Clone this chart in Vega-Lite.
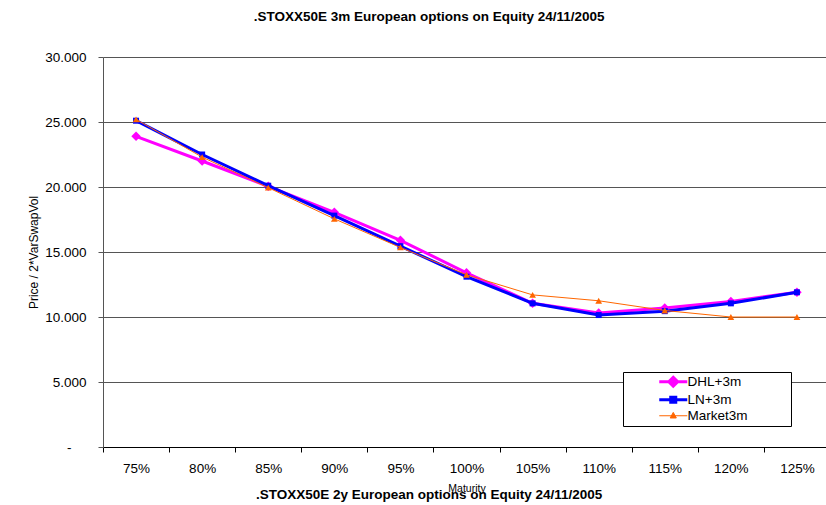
{
  "$schema": "https://vega.github.io/schema/vega-lite/v6.json",
  "padding": {"left": 27, "top": 9, "right": 0, "bottom": 0},
  "background": "white",
  "title": {
    "text": ".STOXX50E 3m European options on Equity 24/11/2005",
    "anchor": "middle",
    "frame": "bounds",
    "font": "Liberation Sans",
    "fontSize": 13.5,
    "fontWeight": "bold",
    "color": "black",
    "offset": 27
  },
  "datasets": {
    "vols": [
      {"strike": "75%", "series": "DHL+3m", "value": 23.9},
      {"strike": "80%", "series": "DHL+3m", "value": 22.0},
      {"strike": "85%", "series": "DHL+3m", "value": 20.05},
      {"strike": "90%", "series": "DHL+3m", "value": 18.05},
      {"strike": "95%", "series": "DHL+3m", "value": 15.9},
      {"strike": "100%", "series": "DHL+3m", "value": 13.4},
      {"strike": "105%", "series": "DHL+3m", "value": 11.05},
      {"strike": "110%", "series": "DHL+3m", "value": 10.3},
      {"strike": "115%", "series": "DHL+3m", "value": 10.7},
      {"strike": "120%", "series": "DHL+3m", "value": 11.2},
      {"strike": "125%", "series": "DHL+3m", "value": 11.9},
      {"strike": "75%", "series": "LN+3m", "value": 25.1},
      {"strike": "80%", "series": "LN+3m", "value": 22.5},
      {"strike": "85%", "series": "LN+3m", "value": 20.1},
      {"strike": "90%", "series": "LN+3m", "value": 17.8},
      {"strike": "95%", "series": "LN+3m", "value": 15.45},
      {"strike": "100%", "series": "LN+3m", "value": 13.1},
      {"strike": "105%", "series": "LN+3m", "value": 11.05},
      {"strike": "110%", "series": "LN+3m", "value": 10.15},
      {"strike": "115%", "series": "LN+3m", "value": 10.45},
      {"strike": "120%", "series": "LN+3m", "value": 11.05},
      {"strike": "125%", "series": "LN+3m", "value": 11.9},
      {"strike": "75%", "series": "Market3m", "value": 25.2},
      {"strike": "80%", "series": "Market3m", "value": 22.3},
      {"strike": "85%", "series": "Market3m", "value": 19.95},
      {"strike": "90%", "series": "Market3m", "value": 17.55},
      {"strike": "95%", "series": "Market3m", "value": 15.35},
      {"strike": "100%", "series": "Market3m", "value": 13.25},
      {"strike": "105%", "series": "Market3m", "value": 11.7},
      {"strike": "110%", "series": "Market3m", "value": 11.25},
      {"strike": "115%", "series": "Market3m", "value": 10.5},
      {"strike": "120%", "series": "Market3m", "value": 10.0},
      {"strike": "125%", "series": "Market3m", "value": 10.0}
    ]
  },
  "vconcat": [
    {
      "width": 727,
      "height": 390,
      "title": {
        "text": ".STOXX50E 2y European options on Equity 24/11/2005",
        "orient": "bottom",
        "anchor": "middle",
        "frame": "bounds",
        "font": "Liberation Sans",
        "fontSize": 13.5,
        "fontWeight": "bold",
        "color": "black",
        "offset": -5.5
      },
      "data": {"name": "vols"},
      "encoding": {
        "x": {
          "field": "strike",
          "type": "ordinal",
          "sort": ["75%", "80%", "85%", "90%", "95%", "100%", "105%", "110%", "115%", "120%", "125%"],
          "scale": {"type": "band", "paddingInner": 0, "paddingOuter": 0},
          "axis": {
            "title": "Maturity",
            "titleFont": "Liberation Sans",
            "titleFontSize": 10.5,
            "titleFontWeight": "normal",
            "titleColor": "black",
            "titlePadding": 8.5,
            "labelFont": "Liberation Sans",
            "labelFontSize": 13.5,
            "labelColor": "black",
            "labelAngle": 0,
            "labelPadding": 9,
            "tickBand": "extent",
            "tickSize": 5,
            "tickColor": "black",
            "domainColor": "black",
            "grid": false
          }
        },
        "y": {
          "field": "value",
          "type": "quantitative",
          "scale": {"domain": [0, 30], "nice": false, "zero": true},
          "axis": {
            "title": "Price / 2*VarSwapVol",
            "titleFont": "Liberation Sans",
            "titleFontSize": 12,
            "titleFontWeight": "normal",
            "titleColor": "black",
            "titlePadding": 4,
            "values": [0, 5, 10, 15, 20, 25, 30],
            "labelExpr": "datum.value === 0 ? '-' : format(datum.value, '.3f')",
            "labelFont": "Liberation Sans",
            "labelFontSize": 13.5,
            "labelColor": "black",
            "labelPadding": {"condition": {"test": "datum.value === 0", "value": 27}, "value": 12},
            "tickSize": 5,
            "tickColor": "#555555",
            "domainColor": "#555555",
            "grid": true,
            "gridColor": "#555555",
            "gridOpacity": 1
          }
        },
        "color": {
          "field": "series",
          "type": "nominal",
          "scale": {
            "domain": ["DHL+3m", "LN+3m", "Market3m"],
            "range": ["#FF00FF", "#0000FF", "#FF6600"]
          },
          "legend": {
            "title": null,
            "orient": "none",
            "legendX": 520,
            "legendY": 315,
            "strokeColor": "black",
            "fillColor": "white",
            "padding": 3,
            "rowPadding": -2.3,
            "symbolSize": 100,
            "symbolOffset": 40.5,
            "labelOffset": 7.5,
            "labelAlign": "left",
            "labelFont": "Liberation Sans",
            "labelFontSize": 13.5,
            "labelColor": "black",
            "labelExpr": "datum.label === 'Market3m' ? 'Market3m\u2800\u2800\u2800\u2800' : datum.label",
            "encoding": {
              "symbols": {
                "shape": {"value": {"signal": "datum.value === 'DHL+3m' ? 'M-1,0H1M0,-0.32L0.32,0L0,0.32L-0.32,0Z' : datum.value === 'LN+3m' ? 'M-1,0H1M-0.18,-0.18H0.18V0.18H-0.18Z' : 'M-1,0H1M0,-0.24L0.22,0.16H-0.22Z'"}},
                "size": {"value": 784},
                "fill": {"value": {"signal": "scale('color', datum.value)"}},
                "stroke": {"value": {"signal": "scale('color', datum.value)"}},
                "strokeWidth": {"value": {"signal": "datum.value === 'Market3m' ? 1 : 3"}},
                "opacity": {"value": 1},
                "fillOpacity": {"value": 1},
                "strokeOpacity": {"value": 1}
              }
            }
          }
        }
      },
      "layer": [
        {
          "transform": [{"filter": {"field": "series", "equal": "DHL+3m"}}],
          "mark": {"type": "line", "strokeWidth": 3}
        },
        {
          "transform": [{"filter": {"field": "series", "equal": "DHL+3m"}}],
          "mark": {"type": "point", "filled": true, "opacity": 1, "shape": "diamond", "size": 90}
        },
        {
          "transform": [{"filter": {"field": "series", "equal": "LN+3m"}}],
          "mark": {"type": "line", "strokeWidth": 3}
        },
        {
          "transform": [{"filter": {"field": "series", "equal": "LN+3m"}}],
          "mark": {"type": "point", "filled": true, "opacity": 1, "shape": "square", "size": 36}
        },
        {
          "transform": [{"filter": {"field": "series", "equal": "Market3m"}}],
          "mark": {"type": "line", "strokeWidth": 1}
        },
        {
          "transform": [{"filter": {"field": "series", "equal": "Market3m"}}],
          "mark": {"type": "point", "filled": true, "opacity": 1, "shape": "triangle-up", "size": 45}
        }
      ]
    }
  ],
  "config": {
    "view": {"stroke": null},
    "font": "Liberation Sans"
  }
}
